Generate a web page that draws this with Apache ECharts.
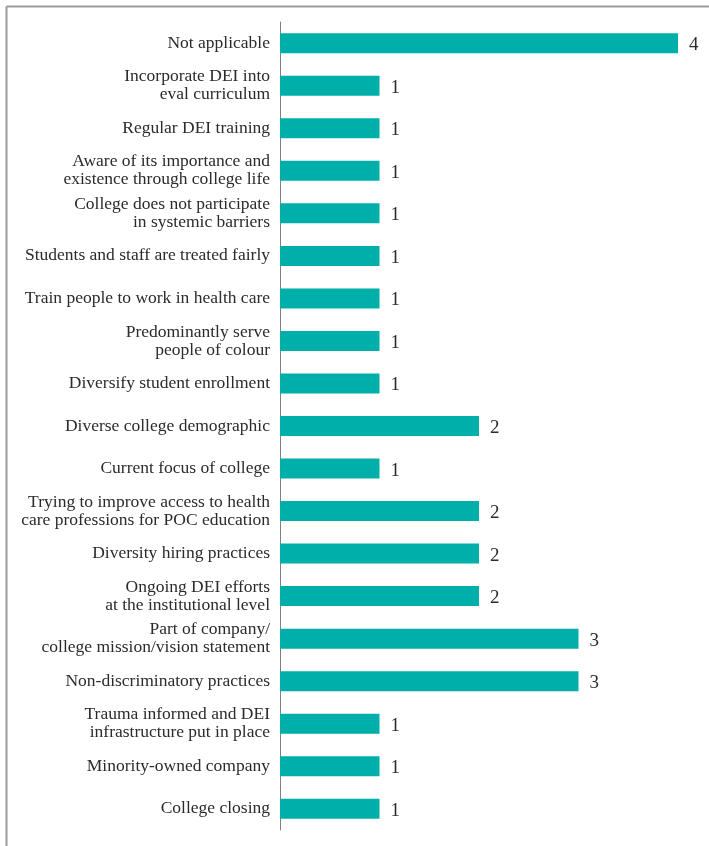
<!DOCTYPE html>
<html>
<head>
<meta charset="utf-8">
<script src="https://cdn.jsdelivr.net/npm/echarts@6/dist/echarts.min.js"></script>
<style>
  html, body { margin: 0; padding: 0; background: #fff; }
  #chart { width: 709px; height: 846px; }
</style>
</head>
<body>
<div id="chart"></div>
<script>
// Reasons given, listed top to bottom
const categories = [
  'Not applicable',
  'Incorporate DEI into\neval curriculum',
  'Regular DEI training',
  'Aware of its importance and\nexistence through college life',
  'College does not participate\nin systemic barriers',
  'Students and staff are treated fairly',
  'Train people to work in health care',
  'Predominantly serve\npeople of colour',
  'Diversify student enrollment',
  'Diverse college demographic',
  'Current focus of college',
  'Trying to improve access to health\ncare professions for POC education',
  'Diversity hiring practices',
  'Ongoing DEI efforts\nat the institutional level',
  'Part of company/\ncollege mission/vision statement',
  'Non-discriminatory practices',
  'Trauma informed and DEI\ninfrastructure put in place',
  'Minority-owned company',
  'College closing'
];
const counts = [4, 1, 1, 1, 1, 1, 1, 1, 1, 2, 1, 2, 2, 2, 3, 3, 1, 1, 1];

const serif = '"Liberation Serif", "DejaVu Serif", serif';
const chart = echarts.init(document.getElementById('chart'), null, { renderer: 'canvas' });

chart.setOption({
  animation: false,
  backgroundColor: '#ffffff',
  graphic: [
    { type: 'line', shape: { x1: 6.5, y1: 6.5, x2: 709, y2: 6.5 }, style: { stroke: '#9a9a9a', lineWidth: 2 } },
    { type: 'line', shape: { x1: 6.5, y1: 6.5, x2: 6.5, y2: 846 }, style: { stroke: '#9a9a9a', lineWidth: 2 } }
  ],
  grid: { left: 280, right: 31, top: 22, bottom: 16, containLabel: false },
  xAxis: {
    type: 'value', min: 0, max: 4, show: false
  },
  yAxis: {
    type: 'category',
    data: categories,
    inverse: true,
    axisLine: { show: true, lineStyle: { color: '#808080', width: 1 } },
    axisTick: { show: false },
    axisLabel: {
      margin: 10,
      color: '#2b2b2b',
      fontFamily: serif,
      fontSize: 17.5,
      lineHeight: 18,
      align: 'right',
      padding: [3, 0, 0, 0]
    }
  },
  series: [{
    type: 'bar',
    data: counts,
    barWidth: 20,
    itemStyle: { color: '#00afa9' },
    label: {
      show: true,
      position: 'right',
      distance: 11,
      offset: [0, 2],
      color: '#2b2b2b',
      fontFamily: serif,
      fontSize: 19
    }
  }]
});
</script>
</body>
</html>
